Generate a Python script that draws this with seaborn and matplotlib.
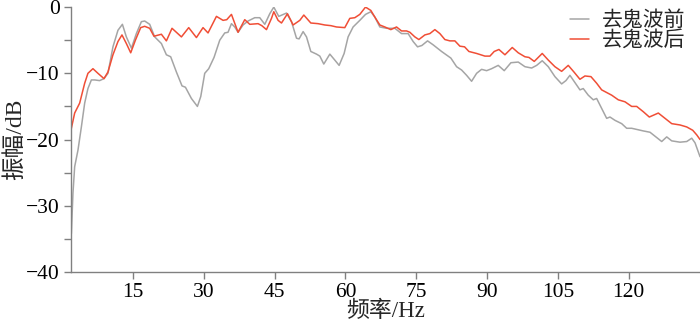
"""
Espectro de amplitud antes y después de eliminar el fantasma (ghost).
"""
import numpy as np
import pandas as pd
import matplotlib
matplotlib.use("Agg")
import matplotlib.pyplot as plt
import seaborn as sns
from matplotlib.ticker import MultipleLocator

# ──────────────────────────────────────────────
# DATOS
# ──────────────────────────────────────────────

freq_antes = [1.94, 2.28, 2.64, 3.34, 4.06, 4.76, 5.45, 6.18, 6.88, 7.93, 8.85, 9.69,
              10.75, 11.81, 12.75, 13.59, 14.66, 15.71, 16.77, 17.47, 18.53, 19.59,
              21.01, 22.07, 22.98, 24.19, 25.38, 26.10, 27.37, 28.64, 29.35, 30.19,
              31.04, 32.16, 33.37, 34.43, 35.13, 35.85, 36.55, 37.25, 38.31, 39.37,
              40.79, 41.85, 42.91, 43.97, 44.82, 45.87, 47.51, 48.57, 49.63, 50.18,
              51.03, 51.75, 52.66, 53.87, 54.57, 55.41, 56.69, 57.74, 58.66, 59.72,
              60.56, 61.62, 63.04, 64.25, 65.37, 66.22, 67.28, 68.70, 70.46, 71.88,
              73.28, 74.34, 75.27, 76.18, 77.39, 78.58, 80.36, 82.33, 83.54, 84.60,
              85.66, 86.72, 87.78, 88.84, 89.90, 90.96, 92.36, 93.63, 95.05, 96.60,
              98.02, 99.44, 100.50, 101.68, 102.96, 104.37, 105.79, 106.70, 107.55,
              108.61, 109.67, 110.37, 111.43, 112.49, 113.21, 114.27, 115.33, 116.03,
              117.09, 118.51, 119.57, 120.63, 123.09, 124.51, 125.93, 126.99, 128.05,
              129.11, 130.87, 132.29, 133.35, 134.05, 135.11]
amp_antes = [-34.2, -28.1, -24.1, -21.6, -18.1, -14.5, -12.3, -11.0, -11.0, -11.1, -10.8, -10.0,
             -6.0, -3.5, -2.6, -4.5, -6.2, -4.0, -2.2, -2.1, -2.6, -4.5,
             -5.5, -7.2, -7.5, -9.8, -11.9, -12.1, -13.8, -15.0, -13.5, -10.0,
             -9.3, -7.6, -5.0, -3.9, -3.8, -2.5, -3.0, -3.8, -2.7, -2.1,
             -1.6, -1.6, -2.6, -1.0, 0.0, -1.4, -0.9, -2.2, -4.7, -4.8,
             -3.7, -4.5, -6.7, -7.1, -7.4, -8.6, -7.1, -8.0, -8.8, -7.0,
             -4.5, -3.0, -2.0, -1.1, -0.7, -1.5, -3.0, -3.2, -3.2, -4.0,
             -4.0, -5.2, -6.0, -5.8, -5.1, -5.7, -6.7, -7.7, -9.0, -9.5,
             -10.3, -11.2, -10.0, -9.4, -9.6, -9.3, -8.8, -9.6, -8.4, -8.3,
             -9.0, -9.2, -8.8, -8.1, -9.0, -10.5, -11.6, -11.1, -10.3,
             -11.4, -12.5, -12.3, -13.3, -14.0, -13.8, -15.3, -16.8, -16.6,
             -17.1, -17.6, -18.3, -18.3, -18.7, -18.9, -19.7, -20.3, -19.6,
             -20.2, -20.4, -20.3, -19.8, -20.5, -22.6]

freq_despues = [1.79, 2.64, 3.70, 4.76, 5.45, 6.51, 7.57, 8.85, 9.69, 10.75, 11.81, 12.66,
                13.59, 14.51, 15.50, 16.62, 17.47, 18.53, 19.44, 21.01, 22.07, 23.26,
                25.25, 26.80, 28.43, 29.83, 30.89, 32.67, 34.07, 34.85, 35.85, 37.25,
                38.67, 39.73, 41.49, 42.28, 43.27, 44.33, 44.82, 45.73, 46.45, 47.72,
                48.91, 50.33, 51.18, 52.66, 54.20, 55.62, 56.90, 58.10, 59.86, 60.92,
                61.98, 63.04, 64.25, 65.37, 66.22, 67.28, 68.34, 69.61, 70.82, 71.88,
                72.94, 73.64, 74.70, 75.55, 76.82, 77.88, 78.94, 80.00, 81.06, 82.12,
                83.18, 84.24, 85.23, 86.15, 87.78, 89.54, 90.60, 91.51, 92.51, 93.78,
                95.33, 96.60, 98.02, 98.87, 99.99, 101.68, 102.96, 104.37, 105.79,
                107.19, 108.40, 109.67, 110.73, 112.00, 113.21, 114.27, 115.33, 116.39,
                117.79, 119.21, 120.63, 121.69, 123.09, 124.36, 126.27, 127.69, 129.11,
                130.87, 132.29, 133.56, 134.41, 135.11]
amp_despues = [-18.8, -16.0, -14.5, -11.5, -10.0, -9.3, -10.0, -10.8, -9.8, -7.2, -5.2, -4.2,
               -5.5, -6.9, -5.0, -3.1, -2.9, -3.2, -4.4, -4.1, -5.1, -3.2,
               -4.5, -3.1, -4.6, -3.1, -3.9, -1.4, -2.0, -1.9, -1.1, -3.8,
               -1.9, -2.6, -2.5, -2.8, -3.4, -1.7, -0.7, -2.0, -2.4, -1.0,
               -2.7, -2.0, -1.2, -2.4, -2.5, -2.7, -2.8, -3.0, -3.1, -1.7,
               -1.6, -1.1, 0.0, -0.5, -1.5, -2.7, -3.0, -3.4, -3.0, -3.6,
               -3.6, -3.8, -4.5, -4.9, -4.2, -4.0, -3.4, -4.0, -4.9, -5.1,
               -5.1, -5.9, -6.0, -6.7, -7.0, -7.4, -7.4, -6.7, -6.4, -7.2,
               -6.1, -6.9, -7.5, -7.6, -8.2, -7.0, -8.0, -9.0, -9.7,
               -8.8, -9.8, -10.9, -10.4, -10.5, -11.5, -12.5, -12.9, -13.3,
               -14.0, -14.3, -15.0, -15.0, -15.8, -16.6, -16.0, -16.8, -17.6,
               -17.8, -18.1, -18.6, -19.3, -20.0]

etiquetas = ["去鬼波前", "去鬼波后"]
x_ticks = [15, 30, 45, 60, 75, 90, 105, 120]
y_ticks = [-40, -30, -20, -10, 0]

COLORES = {"去鬼波前": "#a5a5a5", "去鬼波后": "#f04e36"}

# ──────────────────────────────────────────────
# ESTILO
# ──────────────────────────────────────────────

sns.set_theme(style="ticks")
plt.rcParams["font.family"] = ["Liberation Serif", "Noto Sans CJK SC"]
plt.rcParams["axes.unicode_minus"] = True

df = pd.concat([
    pd.DataFrame({"freq": freq_antes, "amp": amp_antes, "serie": etiquetas[0]}),
    pd.DataFrame({"freq": freq_despues, "amp": amp_despues, "serie": etiquetas[1]}),
])

fig = plt.figure(figsize=(7, 3.23), dpi=100)
ax = fig.add_axes([0.101, 0.158, 0.899, 0.820])

sns.lineplot(data=df, x="freq", y="amp", hue="serie", palette=COLORES,
             sort=False, estimator=None, linewidth=1.1, ax=ax)

ax.set_xlim(1.8, 135.1)
ax.set_ylim(-40, 0)
ax.set_xticks(x_ticks)
ax.set_yticks(y_ticks)
ax.yaxis.set_minor_locator(MultipleLocator(5))

for s in ["top", "right"]:
    ax.spines[s].set_visible(False)
for s in ["left", "bottom"]:
    ax.spines[s].set_color("#808080")
    ax.spines[s].set_linewidth(1.0)

ax.tick_params(axis="both", which="major", length=5, width=1, color="#808080",
               labelsize=15.5, labelcolor="black", pad=3)
ax.tick_params(axis="y", which="minor", length=5, width=1, color="#808080")

ax.set_xlabel("频率/Hz", fontsize=16.5, labelpad=-1)
ax.set_ylabel("振幅/dB", fontsize=17, labelpad=0)

leg = ax.legend(loc="upper right", bbox_to_anchor=(1.006, 1.055), frameon=False,
                fontsize=15, handlelength=0.9, handletextpad=0.6, labelspacing=0.0)
for linea in leg.get_lines():
    linea.set_linewidth(1.1)

fig.savefig("out.png", dpi=100)
